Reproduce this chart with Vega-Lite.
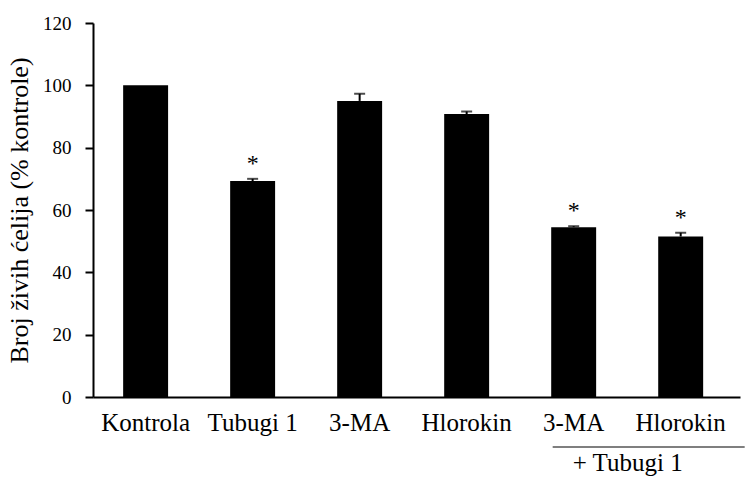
{
  "$schema": "https://vega.github.io/schema/vega-lite/v6.json",
  "autosize": {"type": "none"},
  "width": 647,
  "height": 374,
  "padding": {"left": 93, "top": 23, "right": 5, "bottom": 81},
  "background": "white",
  "config": {
    "view": {"stroke": null},
    "font": "Liberation Serif",
    "axis": {"labelFont": "Liberation Serif", "titleFont": "Liberation Serif"},
    "text": {"font": "Liberation Serif"}
  },
  "data": {
    "values": [
      {"grupa": "Kontrola", "vrednost": 100, "greska": 0, "sig": ""},
      {"grupa": "Tubugi 1", "vrednost": 69.3, "greska": 0.7, "sig": "*"},
      {"grupa": "3-MA", "vrednost": 95, "greska": 2.3, "sig": ""},
      {"grupa": "Hlorokin", "vrednost": 90.8, "greska": 0.8, "sig": ""},
      {"grupa": "3-MA + Tubugi 1", "vrednost": 54.5, "greska": 0.3, "sig": "*"},
      {"grupa": "Hlorokin + Tubugi 1", "vrednost": 51.5, "greska": 1.2, "sig": "*"}
    ]
  },
  "encoding": {
    "x": {
      "field": "grupa",
      "type": "nominal",
      "sort": null,
      "scale": {"paddingInner": 0.58, "paddingOuter": 0.313, "align": 0.45},
      "axis": {
        "title": null,
        "labelAngle": 0,
        "labelFont": "Liberation Serif",
        "labelFontSize": 25,
        "labelColor": "black",
        "labelPadding": 13,
        "labelExpr": "split(datum.label, ' + ')[0]",
        "ticks": false,
        "domainColor": "black",
        "domainWidth": 2
      }
    }
  },
  "layer": [
    {
      "mark": {"type": "bar", "color": "black"},
      "encoding": {
        "y": {
          "field": "vrednost",
          "type": "quantitative",
          "scale": {"domain": [0, 120]},
          "axis": {
            "title": "Broj živih ćelija (% kontrole)",
            "titleFont": "Liberation Serif",
            "titleFontSize": 26,
            "titleFontWeight": "normal",
            "titleColor": "black",
            "titlePadding": 10,
            "values": [0, 20, 40, 60, 80, 100, 120],
            "labelFont": "Liberation Serif",
            "labelFontSize": 19,
            "labelColor": "black",
            "labelPadding": 14,
            "tickSize": 8,
            "tickColor": "black",
            "tickWidth": 2,
            "domainColor": "black",
            "domainWidth": 2,
            "grid": false
          }
        }
      }
    },
    {
      "mark": {"type": "rule", "color": "black", "strokeWidth": 2},
      "encoding": {
        "y": {"field": "vrednost", "type": "quantitative"},
        "y2": {"field": "greska_top"}
      },
      "transform": [{"filter": "datum.greska > 0"}, {"calculate": "datum.vrednost + datum.greska", "as": "greska_top"}]
    },
    {
      "mark": {"type": "tick", "color": "black", "size": 11, "thickness": 2},
      "encoding": {
        "y": {"field": "greska_top", "type": "quantitative"}
      },
      "transform": [{"filter": "datum.greska > 0"}, {"calculate": "datum.vrednost + datum.greska", "as": "greska_top"}]
    },
    {
      "mark": {"type": "text", "font": "Liberation Serif", "fontSize": 24, "baseline": "alphabetic", "dy": -8, "color": "black"},
      "encoding": {
        "y": {"field": "greska_top", "type": "quantitative"},
        "text": {"field": "sig"}
      },
      "transform": [{"calculate": "datum.vrednost + datum.greska", "as": "greska_top"}]
    },
    {
      "data": {"values": [{"napomena": "+ Tubugi 1"}]},
      "mark": {"type": "rule", "color": "black", "strokeWidth": 1.2, "xOffset": -21, "x2Offset": 64, "yOffset": 50},
      "encoding": {
        "x": {"datum": "3-MA + Tubugi 1"},
        "x2": {"datum": "Hlorokin + Tubugi 1"},
        "y": {"datum": 0}
      }
    },
    {
      "data": {"values": [{"napomena": "+ Tubugi 1"}]},
      "mark": {"type": "text", "font": "Liberation Serif", "fontSize": 25, "baseline": "middle", "dx": -53, "dy": 66, "color": "black"},
      "encoding": {
        "x": {"datum": "Hlorokin + Tubugi 1"},
        "y": {"datum": 0},
        "text": {"field": "napomena"}
      }
    }
  ]
}
